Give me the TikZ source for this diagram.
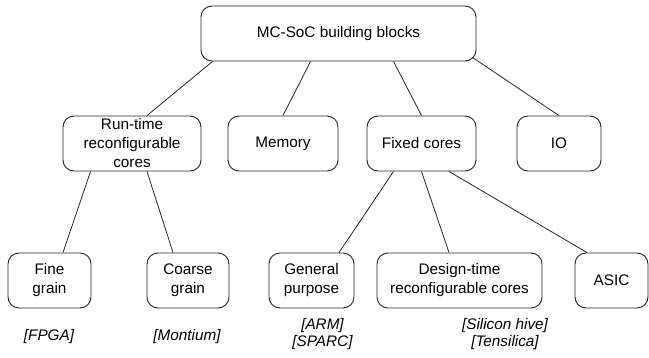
\documentclass[tikz,border=0pt]{standalone}
\usepackage{fontspec}
\setmainfont{Liberation Sans}
\begin{document}
\begin{tikzpicture}[x=1pt,y=-1pt,
  blk/.style={draw=black!85,line width=0.9pt,rounded corners=11pt,inner sep=0pt,
    minimum height=55pt,align=center,font=\fontsize{15.3}{19}\selectfont},
  lbl/.style={inner sep=0pt,align=center,font=\fontsize{15.3}{17}\selectfont\itshape},
  link/.style={draw=black!85,line width=0.8pt}]
\useasboundingbox (0,0) rectangle (649,357);
% top
\node[blk,minimum width=275pt] (top) at (338.5,33.5) {MC-SoC building blocks};
% row 2
\node[blk,minimum width=138pt] (rt) at (132,143.5) {Run-time\\reconfigurable\\cores};
\node[blk,minimum width=110pt] (mem) at (283,143.5) {Memory};
\node[blk,minimum width=109pt] (fix) at (421.5,143.5) {Fixed cores};
\node[blk,minimum width=84pt] (io) at (559,143.5) {IO};
% row 3
\node[blk,minimum width=83pt] (fine) at (49.5,280.5) {Fine\\grain};
\node[blk,minimum width=82pt] (coarse) at (188,280.5) {Coarse\\grain};
\node[blk,minimum width=85pt] (gen) at (311.5,280.5) {General\\purpose};
\node[blk,minimum width=165pt] (dt) at (459.5,280.5) {Design-time\\reconfigurable cores};
\node[blk,minimum width=73pt] (asic) at (611.5,280.5) {ASIC};
% labels
\node[lbl] (lfpga) at (49,337) {[FPGA]};
\node[lbl] (lmont) at (187,337) {[Montium]};
\node[lbl] (larm) at (322.5,334.5) {[ARM]\\{}[SPARC]};
\node[lbl] (lsil) at (505,334.5) {[Silicon hive]\\{}[Tensilica]};
% connectors
\draw[link] ([xshift=12pt]top.south west) -- ([xshift=15pt]rt.north);
\draw[link] ([xshift=110pt]top.south west) -- (mem.north);
\draw[link] ([xshift=193pt]top.south west) -- (fix.north);
\draw[link] ([xshift=-4pt,yshift=4pt]top.south east) -- (io.north);
\draw[link] ([xshift=28pt]rt.south west) -- ([xshift=13.5pt]fine.north);
\draw[link] ([xshift=15pt]rt.south) -- ([xshift=-15pt]coarse.north);
\draw[link] ([xshift=27pt]fix.south west) -- ([xshift=27.5pt]gen.north);
\draw[link] (fix.south) -- ([xshift=-10.5pt]dt.north);
\draw[link] ([xshift=27.5pt]fix.south) -- ([xshift=-24.5pt]asic.north);
\end{tikzpicture}
\end{document}
